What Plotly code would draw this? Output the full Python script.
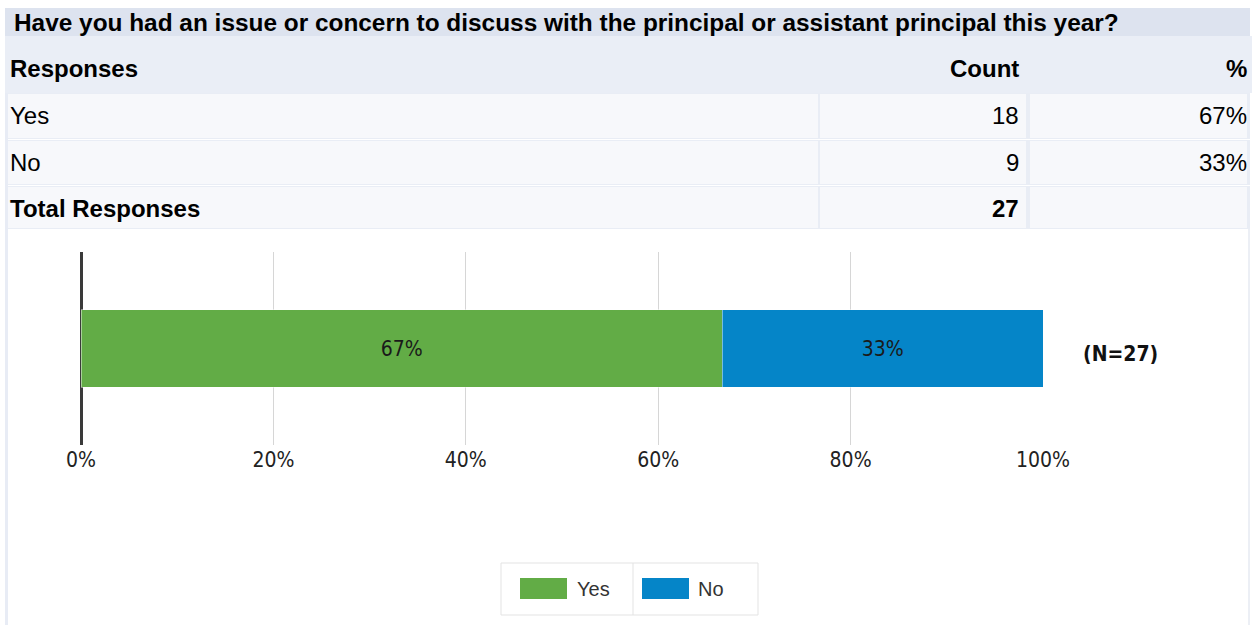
import plotly.graph_objects as go

# ---- data ----
question = "Have you had an issue or concern to discuss with the principal or assistant principal this year?"
responses = ["Yes", "No"]
counts = [18, 9]
colors = ["#62ac46", "#0585c8"]
total = sum(counts)
pcts = [round(c / total * 100) for c in counts]
shares = [c / total * 100 for c in counts]
tick_vals = [0, 20, 40, 60, 80, 100]
tick_text = ["0%", "20%", "40%", "60%", "80%", "100%"]

W, H = 1252, 625


def px(x):
    return x / W


def py(y):
    return 1 - y / H


NARROW = "DejaVu Sans Condensed, Liberation Sans Narrow, Arial Narrow, sans-serif"
FONT = "Liberation Sans, Arial, sans-serif"

fig = go.Figure()
for name, val, p, col in zip(responses, shares, pcts, colors):
    fig.add_trace(go.Bar(
        x=[val], y=["q"], name=name, orientation="h",
        marker=dict(color=col, line=dict(color="rgba(255,255,255,0.45)", width=1)),
        width=0.404,
        text=[f"{p}%"], textposition="inside", insidetextanchor="middle",
        textfont=dict(family=NARROW, size=21, color="#1a1a1a"),
        hoverinfo="skip", showlegend=False,
    ))

shapes = []
annots = []


def rect(x0, y0, x1, y1, color, line=None):
    shapes.append(dict(type="rect", xref="paper", yref="paper", x0=px(x0), x1=px(x1),
                       y0=py(y1), y1=py(y0), fillcolor=color,
                       line=line or dict(width=0), layer="below"))


def text(x, y, s, anchor="left", bold=False, size=24, family=FONT, color="#000000"):
    annots.append(dict(xref="paper", yref="paper", x=px(x), y=py(y), text=f"<b>{s}</b>" if bold else s,
                       showarrow=False, xanchor=anchor, yanchor="middle",
                       font=dict(family=family, size=size, color=color)))


# frame strips
rect(5, 36, 8, 625, "#e8ecf5")
rect(1248, 228, 1250, 625, "#eceff5")
# title bar
rect(5, 8, 1250, 36, "#dde3ef")
text(12, 22, question, bold=True, size=24.4)
# header row
rect(5, 36, 1252, 93, "#eaeef6")
text(8, 68, "Responses", bold=True)
text(1021, 68, "Count", anchor="right", bold=True)
text(1249, 68, "%", anchor="right", bold=True)
# data rows
row_tops = [94, 141]
row_bots = [138, 184]
for name, c, p, t, b in zip(responses, counts, pcts, row_tops, row_bots):
    rect(8, t - 1, 1250, b + 1, "#e9edf5")
    rect(8, t, 818, b, "#f7f8fb")
    rect(820, t, 1026, b, "#f7f8fb")
    rect(1030, t, 1247, b, "#f7f8fb")
    text(8, (t + b) / 2, name)
    text(1021, (t + b) / 2, str(c), anchor="right")
    text(1249, (t + b) / 2, f"{p}%", anchor="right")
# total row
rect(8, 186, 1250, 229, "#e9edf5")
rect(8, 187, 818, 228, "#f7f8fb")
rect(820, 187, 1026, 228, "#f7f8fb")
rect(1030, 187, 1247, 228, "#f7f8fb")
text(8, 208, "Total Responses", bold=True)
text(1021, 208, str(total), anchor="right", bold=True)

# N label
text(1120, 354, f"(N={total})", anchor="center", bold=True, size=21, family=NARROW, color="#111")

# legend (box, separator, swatches, labels)
rect(501, 563, 758, 615, "white", line=dict(color="#e3e3e3", width=1))
shapes.append(dict(type="line", xref="paper", yref="paper", x0=px(633), x1=px(633),
                   y0=py(615), y1=py(563), line=dict(color="#e3e3e3", width=1)))
sw_x = [520, 642]
lab_x = [575, 696]
for name, col, sx, lx in zip(responses, colors, sw_x, lab_x):
    rect(sx, 578, sx + 47, 599, col)
    text(lx, 589, name, size=20, color="#333")

fig.update_layout(
    width=W, height=H,
    margin=dict(l=0, r=0, t=0, b=0, autoexpand=False),
    paper_bgcolor="white", plot_bgcolor="white",
    barmode="stack",
    shapes=shapes, annotations=annots,
    xaxis=dict(domain=[px(81), px(1043)], range=[0, 100], tickvals=tick_vals, ticktext=tick_text,
               showgrid=True, gridcolor="#d6d6d6", gridwidth=1,
               zeroline=True, zerolinecolor="#3a3a3a", zerolinewidth=3,
               showline=False, ticks="", fixedrange=True, automargin=False,
               tickfont=dict(family=NARROW, size=21, color="#222")),
    yaxis=dict(domain=[py(445), py(252)], range=[-0.5, 0.5], showticklabels=False, showgrid=False,
               zeroline=False, fixedrange=True, automargin=False),
    showlegend=False,
)

fig.write_html("out.html", config={"displayModeBar": False},
               post_script="document.body.style.margin='0';document.body.style.overflow='hidden';")
